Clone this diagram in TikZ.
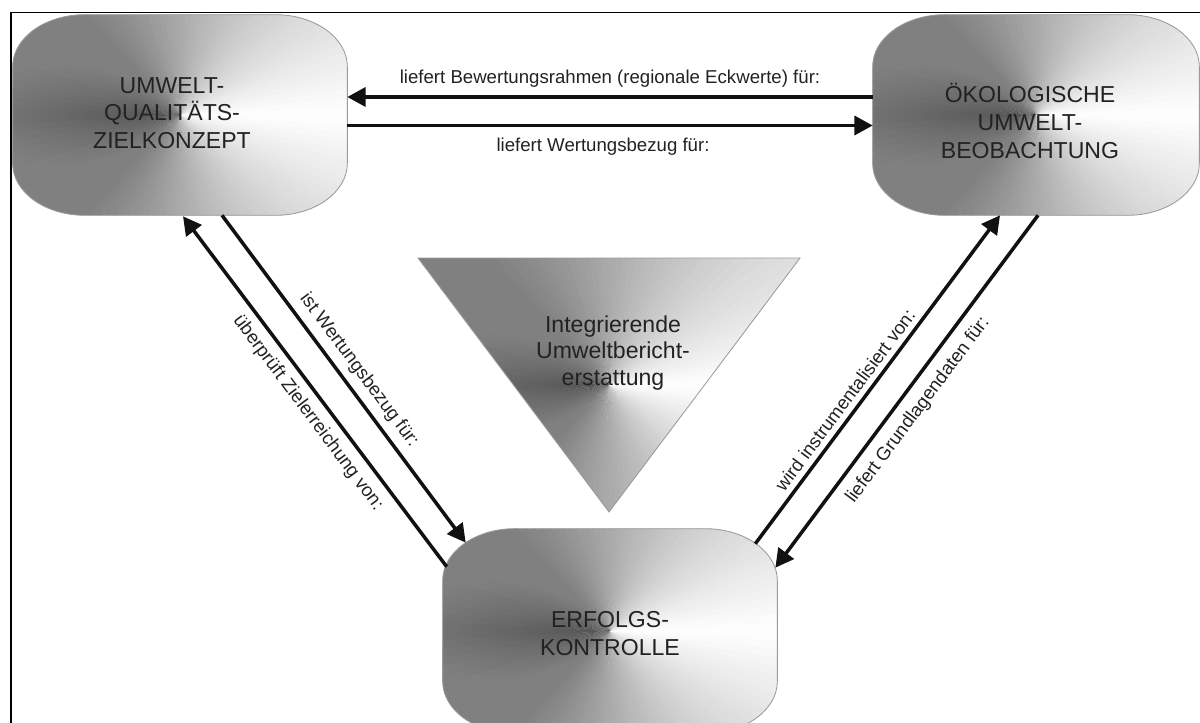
\documentclass[tikz,border=0pt]{standalone}
\usepackage{fontspec}
\setmainfont{Liberation Sans}
\usetikzlibrary{arrows.meta,calc}

\definecolor{shadedark}{HTML}{555555}
\definecolor{rimgray}{HTML}{9A9A9A}
\definecolor{inkgray}{HTML}{222222}
\definecolor{arrowink}{HTML}{111111}

\tikzset{
  % angular grey ramp (dark to the left, white to the right),
  % then a soft brightening towards the rim
  conic/.style={path picture={
    \foreach \i in {0,...,119}{
      \pgfmathsetmacro\a{3*\i}
      \pgfmathsetmacro\p{abs(\a+1.5-180)/1.8}
      \fill[white!\p!shadedark, sharp corners]
        (path picture bounding box.center)
        -- +(\a:20cm) -- +(\a+3.6:20cm) -- cycle;
    }
    \foreach \k in {0,...,29}{
      \pgfmathsetmacro\rr{0.45+0.135*\k}
      \fill[white, fill opacity=0.008, even odd rule]
        (path picture bounding box.center) circle[radius=20cm]
        (path picture bounding box.center) circle[radius=\rr cm];
    }}},
  zone/.style={rectangle, minimum width=8.35cm, minimum height=5cm,
    inner sep=0pt},
  zoneline/.style={draw=rimgray, line width=0.6pt, conic},
  boxtxt/.style={align=center, text=inkgray, inner sep=0pt,
    font=\fontsize{16.4}{19.6}\selectfont},
  tritxt/.style={align=center, text=inkgray, inner sep=0pt,
    font=\fontsize{16.4}{18.9}\selectfont},
  lbl/.style={text=inkgray, inner sep=0pt, font=\fontsize{13.25}{16}\selectfont},
  link/.style={draw=arrowink, line width=2.5pt,
    -{Triangle[length=13pt,width=13.5pt]}},
}

% outline of a field with elliptic corners (72 x 52 units)
\newcommand\zoneoutline[1]{%
  \path[zoneline]
    ($(#1.north west)+(72,0)$) -- ($(#1.north east)+(-72,0)$)
    arc[start angle=90, end angle=0, x radius=1.8cm, y radius=1.3cm]
    -- ($(#1.south east)+(0,-52)$)
    arc[start angle=0, end angle=-90, x radius=1.8cm, y radius=1.3cm]
    -- ($(#1.south west)+(72,0)$)
    arc[start angle=270, end angle=180, x radius=1.8cm, y radius=1.3cm]
    -- ($(#1.north west)+(0,52)$)
    arc[start angle=180, end angle=90, x radius=1.8cm, y radius=1.3cm]
    -- cycle;}

\begin{document}
\begin{tikzpicture}[x=0.025cm, y=-0.025cm]
  \useasboundingbox (0,0) rectangle (1200,722);

  % the three main fields
  \node[zone] (uqz) at (180,115) {};
  \node[zone, minimum width=8.15cm] (okb) at (1036,115) {};
  \node[zone, minimum height=5.1cm] (ek) at (610,631) {};
  \zoneoutline{uqz}
  \zoneoutline{okb}
  \zoneoutline{ek}

  % central triangle
  \path[zoneline] (418,258) -- (800,258) -- (609,512) -- cycle;

  % texts of the fields
  \node[boxtxt] (uqzt) at (172,113) {UMWELT-\\QUALITÄTS-\\ZIELKONZEPT};
  \node[boxtxt] (okbt) at (1030,121) {ÖKOLOGISCHE\\UMWELT-\\BEOBACHTUNG};
  \node[boxtxt] (ekt) at (610,633.5) {ERFOLGS-\\KONTROLLE};
  \node[tritxt] (iub) at (613,353) {Integrierende\\Umweltbericht-\\erstattung};

  % horizontal relations
  \draw[link] ($(okb.west)+(0,-18)$) -- ($(uqz.east)+(0,-18)$);
  \draw[link] ($(uqz.east)+(0,10.5)$) -- ($(okb.west)+(0,10.5)$);
  \node[lbl, anchor=base] (l1) at (610,84)
    {liefert Bewertungsrahmen (regionale Eckwerte) für:};
  \node[lbl, anchor=base] (l2) at (603,152) {liefert Wertungsbezug für:};

  % left relations
  \draw[link] ($(ek.north west)+(4,38)$) -- ($(uqz.south)+(3,1)$);
  \draw[link] ($(uqz.south)+(42,0)$) -- ($(ek.north west)+(23,14)$);
  \node[lbl, rotate=-53.3] (l3) at (359,370) {ist Wertungsbezug für:};
  \node[lbl, rotate=-53.3] (l4) at (308,413) {überprüft Zielerreichung von:};

  % right relations
  \draw[link] ($(ek.north east)+(-22,15)$) -- ($(okb.south)+(-36,0)$);
  \draw[link] ($(okb.south)+(2,0)$) -- ($(ek.north east)+(-2,39)$);
  \node[lbl, rotate=53.3] (l5) at (845,400) {wird instrumentalisiert von:};
  \node[lbl, rotate=53.3] (l6) at (918,410) {liefert Grundlagendaten für:};

  % frame
  \draw[line width=1pt] (11,760) -- (11,12.5) -- (1240,12.5);
\end{tikzpicture}
\end{document}
